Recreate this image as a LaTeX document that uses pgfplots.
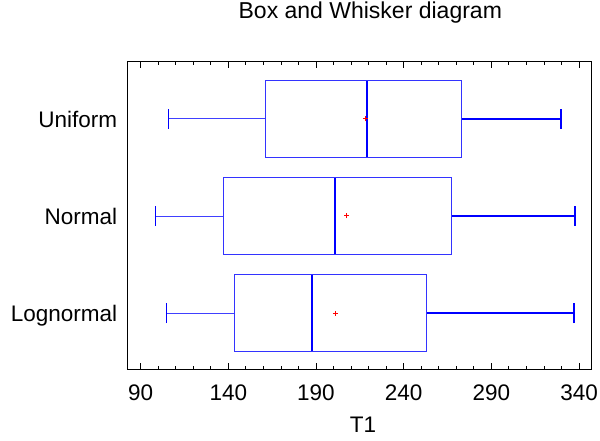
\documentclass[border=0pt]{standalone}
\usepackage{pgfplots}
\pgfplotsset{compat=1.18}
\usepgfplotslibrary{statistics}
\usepackage{fontspec}
\setmainfont{Liberation Sans}
\begin{document}
\begin{tikzpicture}
\begin{axis}[
  scale only axis, width=464pt, height=307.6pt,
  xmin=82.4, xmax=347, ymin=0.42, ymax=3.59,
  xtick={90,140,190,240,290,340}, minor x tick num=4,
  ytick={1,2,3}, yticklabels={Lognormal,Normal,Uniform},
  y tick style={draw=none},
  tick align=inside,
  major tick length=6pt, minor tick length=3pt,
  tick style={black, line width=0.8pt},
  axis line style={line width=1.2pt},
  /pgf/number format/assume math mode=true,
  every tick label/.append style={font=\fontsize{22.5}{26}\selectfont},
  xticklabel style={anchor=base, yshift=-31.4pt, inner sep=0pt},
  yticklabel style={anchor=base east, inner sep=0pt, xshift=-10pt, yshift=-8.3pt},
  title={Box and Whisker diagram},
  title style={at={(0.5,1)}, anchor=base, inner sep=0pt, xshift=11pt, yshift=36.7pt, font=\fontsize{23}{27}\selectfont},
  xlabel={T1},
  xlabel style={at={(0.5,0)}, anchor=base, inner sep=0pt, xshift=3.7pt, yshift=-63.7pt, font=\fontsize{22.5}{26}\selectfont},
  boxplot/draw direction=x,
  boxplot/draw/average/.code={%
    \draw[red, line width=1pt]
      ([xshift=-2.5pt]boxplot box cs:\pgfplotsboxplotvalue{average},0.5) --
      ([xshift=2.5pt]boxplot box cs:\pgfplotsboxplotvalue{average},0.5)
      ([yshift=-2.5pt]boxplot box cs:\pgfplotsboxplotvalue{average},0.5) --
      ([yshift=2.5pt]boxplot box cs:\pgfplotsboxplotvalue{average},0.5);},
  boxplot/draw/median/.code={%
    \draw[line width=1.8pt, blue]
      (boxplot box cs:\pgfplotsboxplotvalue{median},0) --
      (boxplot box cs:\pgfplotsboxplotvalue{median},1);},
  boxplot/draw/upper whisker/.code={%
    \draw[line width=1.8pt, blue]
      (boxplot box cs:\pgfplotsboxplotvalue{upper quartile},0.5) --
      (boxplot box cs:\pgfplotsboxplotvalue{upper whisker},0.5);
    \draw[line width=1.8pt, blue]
      (boxplot whisker cs:\pgfplotsboxplotvalue{upper whisker},0) --
      (boxplot whisker cs:\pgfplotsboxplotvalue{upper whisker},1);},
  boxplot/draw/lower whisker/.code={%
    \draw[line width=0.9pt, blue!75]
      (boxplot box cs:\pgfplotsboxplotvalue{lower quartile},0.5) --
      (boxplot box cs:\pgfplotsboxplotvalue{lower whisker},0.5);
    \draw[line width=1.4pt, blue]
      (boxplot whisker cs:\pgfplotsboxplotvalue{lower whisker},0) --
      (boxplot whisker cs:\pgfplotsboxplotvalue{lower whisker},1);},
]
\addplot[blue!80, line width=0.9pt, boxplot prepared={draw position=3,
  lower whisker=106, lower quartile=161.3, median=219.3, average=218.5,
  upper quartile=272.7, upper whisker=329.8, box extend=0.79, whisker extend=0.206}]
  coordinates {};
\addplot[blue!80, line width=0.9pt, boxplot prepared={draw position=2,
  lower whisker=98.6, lower quartile=137.3, median=200.7, average=207.5,
  upper quartile=267.4, upper whisker=337.6, box extend=0.79, whisker extend=0.206}]
  coordinates {};
\addplot[blue!80, line width=0.9pt, boxplot prepared={draw position=1,
  lower whisker=104.6, lower quartile=143.6, median=187.7, average=201,
  upper quartile=253.1, upper whisker=337, box extend=0.79, whisker extend=0.206}]
  coordinates {};
\end{axis}
\pgfresetboundingbox
\path (current axis.south west) ++(-127.3pt,-71.7pt) rectangle ([shift={(8.7pt,61.7pt)}]current axis.north east);
\end{tikzpicture}
\end{document}
